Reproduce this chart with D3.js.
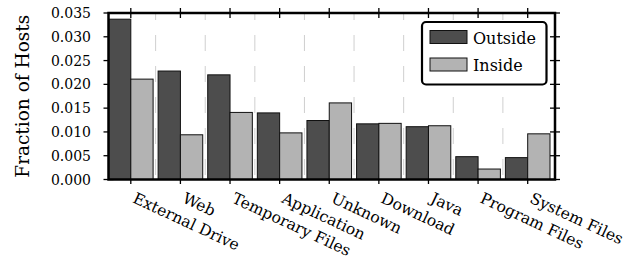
<!DOCTYPE html>
<html><head><meta charset="utf-8">
<script src="https://cdn.jsdelivr.net/npm/d3@7"></script>
<style>html,body{margin:0;padding:0;background:#fff;} svg{display:block;}</style>
</head><body>
<svg id="c" width="640" height="268"></svg>
<script>
const categories = ["External Drive","Web","Temporary Files","Application","Unknown","Download","Java","Program Files","System Files"];
const outside = [0.0337,0.0228,0.0220,0.0140,0.0124,0.0117,0.0111,0.0048,0.0046];
const inside  = [0.0211,0.0094,0.0141,0.0098,0.0161,0.0118,0.0113,0.0022,0.0096];
const yTicks = [0,0.005,0.010,0.015,0.020,0.025,0.030,0.035];
const seriesNames = ["Outside","Inside"];
const colors = ["#4d4d4d","#b3b3b3"];

const svg = d3.select("#c");
const L = 108.5, R = 555, T = 13, B = 179.5;
const font = "DejaVu Serif";
const x = d3.scaleBand().domain(categories).range([L, R]).paddingInner(0).paddingOuter(0);
const y = d3.scaleLinear().domain([0, 0.035]).range([B, T]);
const bw = x.bandwidth();
const barW = (bw - 5) / 2;

// gridlines (between groups)
svg.append("g").selectAll("line").data(categories.slice(0, -1)).join("line")
  .attr("x1", d => x(d) + 2 * barW + 2.5).attr("x2", d => x(d) + 2 * barW + 2.5)
  .attr("y1", T).attr("y2", B)
  .attr("stroke", "#cfcfcf").attr("stroke-width", 1).attr("stroke-dasharray", "16,15")
  .attr("stroke-dashoffset", 9);

// ticks
const tk = svg.append("g").attr("stroke", "#000").attr("stroke-width", 1.3);
tk.selectAll(".tt").data(categories).join("line")
  .attr("x1", d => x(d) + barW).attr("x2", d => x(d) + barW).attr("y1", T - 5).attr("y2", T + 5);
tk.selectAll(".tb").data(categories).join("line")
  .attr("x1", d => x(d) + barW).attr("x2", d => x(d) + barW).attr("y1", B - 5).attr("y2", B + 4.5);
tk.selectAll(".tl").data(yTicks).join("line")
  .attr("x1", L - 5).attr("x2", L + 5).attr("y1", d => y(d)).attr("y2", d => y(d));
tk.selectAll(".tr").data(yTicks).join("line")
  .attr("x1", R - 5).attr("x2", R + 5).attr("y1", d => y(d)).attr("y2", d => y(d));

// bars
const groups = svg.append("g").selectAll("g").data(categories).join("g");
groups.selectAll("rect").data((d, i) => [outside[i], inside[i]].map((v, k) => ({c: d, v, k}))).join("rect")
  .attr("x", d => x(d.c) + d.k * barW)
  .attr("y", d => y(d.v))
  .attr("width", barW)
  .attr("height", d => B - y(d.v))
  .attr("fill", d => colors[d.k])
  .attr("stroke", "#111").attr("stroke-width", 1);

// frame
svg.append("rect").attr("x", L).attr("y", T).attr("width", R - L).attr("height", B - T)
  .attr("fill", "none").attr("stroke", "#000").attr("stroke-width", 2.5);

// y tick labels
svg.append("g").selectAll("text").data(yTicks).join("text")
  .attr("x", 91).attr("y", d => y(d)).attr("dy", "0.36em")
  .attr("text-anchor", "end").attr("font-family", font).attr("font-size", 14).attr("fill", "#000")
  .text(d => d3.format(".3f")(d));

// y axis title
svg.append("text").attr("transform", `translate(29,${(T + B) / 2}) rotate(-90)`)
  .attr("text-anchor", "middle").attr("font-family", font).attr("font-size", 18.5).attr("fill", "#000")
  .text("Fraction of Hosts");

// category labels
svg.append("g").selectAll("text").data(categories).join("text")
  .attr("transform", d => `translate(${x(d) + barW + 1},${202}) rotate(25)`)
  .attr("text-anchor", "start").attr("font-family", font).attr("font-size", 15.6).attr("fill", "#000")
  .text(d => d);

// legend
const lg = svg.append("g");
lg.append("rect").attr("x", 422).attr("y", 22).attr("width", 124.5).attr("height", 62.5).attr("rx", 4)
  .attr("fill", "#fff").attr("stroke", "#000").attr("stroke-width", 2.2);
seriesNames.forEach((n, i) => {
  lg.append("rect").attr("x", 430).attr("y", 30.5 + i * 27.5).attr("width", 37).attr("height", 13)
    .attr("fill", colors[i]).attr("stroke", "#111").attr("stroke-width", 1);
  lg.append("text").attr("x", 473).attr("y", 43.5 + i * 27.5)
    .attr("font-family", font).attr("font-size", 16).attr("fill", "#000").text(n);
});
</script>
</body></html>
